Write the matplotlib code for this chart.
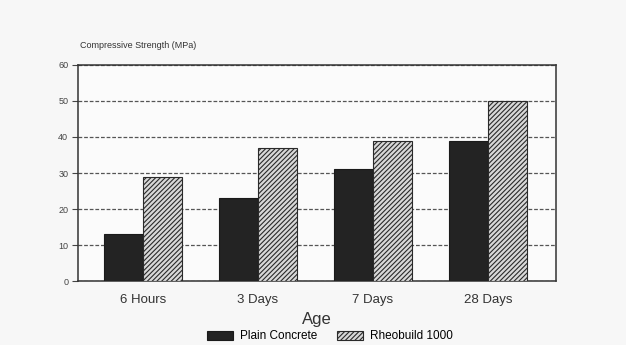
import matplotlib.pyplot as plt
import numpy as np

plt.rcParams["font.family"] = ["Liberation Sans", "DejaVu Sans"]
plt.rcParams["hatch.linewidth"] = 0.8

ages = ["6 Hours", "3 Days", "7 Days", "28 Days"]
plain_concrete = [13, 23, 31, 39]
rheobuild = [29, 37, 39, 50]
series_names = ["Plain Concrete", "Rheobuild 1000"]
y_ticks = [0, 10, 20, 30, 40, 50, 60]


def main():
    fig = plt.figure(figsize=(6.26, 3.45), dpi=100, facecolor="#f7f7f7")
    ax = fig.add_axes([0.1246, 0.1855, 0.7634, 0.6261], facecolor="#fbfbfb")

    x = np.arange(len(ages))
    w = 0.335
    ax.bar(x - w / 2, plain_concrete, w, color="#232323", edgecolor="#1a1a1a",
           linewidth=0.8, label=series_names[0], zorder=3)
    ax.bar(x + w / 2, rheobuild, w, color="#d8d8d8", edgecolor="#2a2a2a",
           hatch="///////", linewidth=0.8, label=series_names[1], zorder=3)

    ax.set_xlim(-0.565, 3.59)
    ax.set_ylim(0, 60)
    ax.set_yticks(y_ticks)
    ax.set_xticks(x)
    ax.set_xticklabels(ages, fontsize=9.5, color="#333333")
    ax.tick_params(axis="x", length=0, pad=9)
    ax.tick_params(axis="y", labelsize=6.5, length=4, width=0.8,
                   colors="#444444", pad=3)
    ax.yaxis.grid(True, linestyle=(0, (3, 1.5)), color="#555555",
                  linewidth=0.9, zorder=0)
    for s in ax.spines.values():
        s.set_color("#333333")
        s.set_linewidth(1.1)

    ax.set_xlabel("Age", fontsize=12, color="#333333", labelpad=5)
    fig.text(0.128, 0.855, "Compressive Strength (MPa)", fontsize=6.5,
             color="#333333", ha="left", va="bottom")

    fig.legend(loc="center", bbox_to_anchor=(0.527, 0.025), ncol=2,
               frameon=False, fontsize=8.5, handlelength=2.2, handleheight=0.8,
               columnspacing=1.6, handletextpad=0.6, borderpad=0.1)

    fig.savefig("out.png", dpi=100, facecolor=fig.get_facecolor())


if __name__ == "__main__":
    main()
